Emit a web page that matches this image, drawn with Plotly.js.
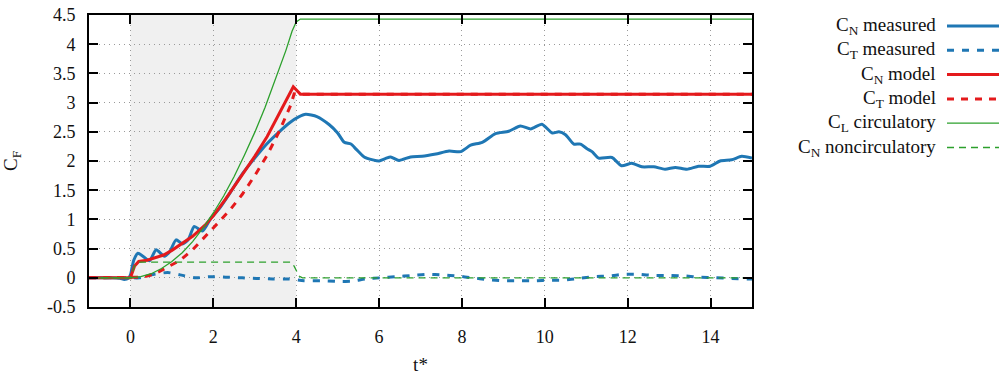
<!DOCTYPE html>
<html>
<head>
<meta charset="utf-8">
<script src="https://cdn.plot.ly/plotly-3.0.1.min.js"></script>
<style>html,body{margin:0;padding:0;background:#fff;}#chart{width:999px;height:375px;}</style>
</head>
<body>
<div id="chart"></div>
<script>
// ---- data ----
const cnMeasuredT = [-1, -0.5, -0.25, -0.15, -0.05, 0, 0.08, 0.18, 0.3, 0.46, 0.62, 0.82, 0.95, 1.1, 1.26, 1.4, 1.54, 1.74, 1.94, 2.14, 2.4, 2.7, 3.0, 3.3, 3.59, 3.85, 4.05, 4.23, 4.5, 4.8, 5.0, 5.16, 5.32, 5.45, 5.64, 5.85, 6.0, 6.15, 6.28, 6.48, 6.76, 7.04, 7.37, 7.69, 7.97, 8.21, 8.49, 8.81, 9.13, 9.41, 9.66, 9.93, 10.18, 10.34, 10.5, 10.7, 10.86, 11.02, 11.14, 11.3, 11.62, 11.85, 12.1, 12.34, 12.63, 12.9, 13.15, 13.43, 13.71, 13.99, 14.23, 14.51, 14.75, 15];
const cnMeasured  = [0, 0, -0.01, -0.03, -0.01, 0.05, 0.3, 0.42, 0.37, 0.29, 0.48, 0.37, 0.45, 0.65, 0.58, 0.66, 0.88, 0.8, 1.02, 1.18, 1.45, 1.78, 2.05, 2.3, 2.5, 2.66, 2.75, 2.8, 2.76, 2.62, 2.48, 2.32, 2.29, 2.2, 2.07, 2.02, 2.0, 2.04, 2.07, 2.01, 2.07, 2.08, 2.12, 2.17, 2.16, 2.27, 2.32, 2.47, 2.51, 2.6, 2.55, 2.63, 2.48, 2.5, 2.45, 2.29, 2.29, 2.21, 2.16, 2.05, 2.06, 1.92, 1.96, 1.9, 1.9, 1.86, 1.89, 1.86, 1.91, 1.91, 2.0, 2.02, 2.08, 2.05];

const ctMeasuredT = [-1, 0, 0.22, 0.5, 0.9, 1.2, 1.58, 1.94, 2.3, 2.7, 3.03, 3.43, 3.83, 4.19, 4.59, 4.96, 5.32, 5.68, 6.04, 6.4, 6.8, 7.16, 7.53, 7.89, 8.25, 8.61, 9.01, 9.37, 9.78, 10.1, 10.45, 10.82, 11.18, 11.54, 11.9, 12.27, 12.63, 13.03, 13.4, 13.75, 14.11, 14.51, 14.88, 15];
const ctMeasured  = [0, 0, 0.0, 0.05, 0.09, 0.05, 0.0, 0.02, 0.01, 0.0, -0.01, -0.02, -0.02, -0.05, -0.05, -0.06, -0.06, -0.02, 0, 0.02, 0.04, 0.06, 0.05, 0.03, 0, -0.03, -0.05, -0.05, -0.05, -0.04, -0.04, -0.01, 0.02, 0.03, 0.06, 0.06, 0.04, 0.04, 0.03, 0.01, 0, -0.01, -0.02, -0.02];

const cnModelT = [-1, 0, 0.1, 0.2, 0.4, 0.6, 0.8, 1.0, 1.2, 1.5, 1.8, 2.0, 2.3, 2.6, 3.0, 3.3, 3.6, 3.8, 3.93, 4.0, 4.1, 15];
const cnModel  = [0, 0, 0.2, 0.28, 0.3, 0.34, 0.39, 0.47, 0.56, 0.71, 0.9, 1.06, 1.35, 1.66, 2.08, 2.42, 2.82, 3.1, 3.27, 3.22, 3.145, 3.145];

const ctModelT = [-1, 0, 0.3, 0.6, 0.9, 1.2, 1.5, 1.8, 2.1, 2.4, 2.7, 3.0, 3.3, 3.6, 3.87, 3.95, 4.05, 15];
const ctModel  = [0, 0, 0.01, 0.07, 0.18, 0.3, 0.48, 0.7, 0.93, 1.16, 1.43, 1.75, 2.1, 2.52, 2.96, 3.15, 3.145, 3.145];

const clCircT = [-1, 0, 0.25, 0.5, 0.75, 1, 1.25, 1.5, 1.75, 2, 2.25, 2.5, 2.75, 3, 3.25, 3.5, 3.75, 3.9, 4.0, 4.1, 15];
const clCirc  = [0, 0, 0.02, 0.07, 0.16, 0.28, 0.43, 0.62, 0.85, 1.11, 1.4, 1.73, 2.1, 2.49, 2.92, 3.39, 3.89, 4.22, 4.38, 4.43, 4.43];

const cnNoncircT = [-1, 0, 0.1, 0.2, 3.87, 3.95, 4.07, 4.15, 15];
const cnNoncirc  = [0, 0, 0.2, 0.27, 0.27, 0.2, 0.03, 0, 0];

const seriesNames = ['C<sub>N</sub> measured', 'C<sub>T</sub> measured', 'C<sub>N</sub> model', 'C<sub>T</sub> model', 'C<sub>L</sub> circulatory', 'C<sub>N</sub> noncirculatory'];
const xTickVals = [0, 2, 4, 6, 8, 10, 12, 14];
const xTickText = ['0', '2', '4', '6', '8', '10', '12', '14'];
const yTickVals = [-0.5, 0, 0.5, 1, 1.5, 2, 2.5, 3, 3.5, 4, 4.5];
const yTickText = ['-0.5', '0', '0.5', '1', '1.5', '2', '2.5', '3', '3.5', '4', '4.5'];
const shadeStart = 0, shadeEnd = 4;

// ---- styles ----
const BLUE = '#1f77b4', RED = '#e41a1c', GREEN = '#2ca02c';
const styles = [
  {color: BLUE, width: 3, dash: 'solid'},
  {color: BLUE, width: 3, dash: '7px,8px'},
  {color: RED, width: 3, dash: 'solid'},
  {color: RED, width: 3, dash: '7px,7px'},
  {color: GREEN, width: 1.3, dash: 'solid'},
  {color: GREEN, width: 1.3, dash: '7px,5px'}
];
const xs = [cnMeasuredT, ctMeasuredT, cnModelT, ctModelT, clCircT, cnNoncircT];
const ys = [cnMeasured, ctMeasured, cnModel, ctModel, clCirc, cnNoncirc];

const traces = xs.map((x, i) => ({
  x: x, y: ys[i], type: 'scatter', mode: 'lines', name: seriesNames[i],
  line: {color: styles[i].color, width: styles[i].width, dash: styles[i].dash,
         shape: i < 2 ? 'spline' : 'linear', smoothing: 0.6},
  showlegend: false, hoverinfo: 'skip'
}));

const FONT = 'Liberation Serif';
const W = 999, H = 375, ML = 89, MR = 247, MT = 15, MB = 68;
const pw = W - ML - MR, ph = H - MT - MB;
const px2x = p => (p - ML) / pw;
const px2y = p => (H - MB - p) / ph;

const shapes = [{
  type: 'rect', xref: 'x', yref: 'paper', x0: shadeStart, x1: shadeEnd, y0: 0, y1: 1,
  fillcolor: '#f0f0f0', line: {width: 0}, layer: 'below'
}];
const annotations = [];
seriesNames.forEach((n, i) => {
  const yy = px2y(26 + i * 24.3);
  annotations.push({xref: 'paper', yref: 'paper', x: px2x(938), y: yy, xanchor: 'right', yanchor: 'middle',
    text: n, showarrow: false, font: {family: FONT, size: 19, color: '#111'}});
  shapes.push({type: 'line', xref: 'paper', yref: 'paper', x0: px2x(947), x1: px2x(1002), y0: yy, y1: yy,
    line: {color: styles[i].color, width: styles[i].width, dash: styles[i].dash}});
});

const axisCommon = {
  showline: true, linecolor: '#000', linewidth: 2, mirror: 'ticks',
  ticks: 'inside', ticklen: 9, tickwidth: 2, tickcolor: '#000',
  showgrid: true, gridcolor: '#9a9a9a', griddash: '1px,4px', gridwidth: 1,
  zeroline: false, tickfont: {family: FONT, size: 18, color: '#111'}, tickmode: 'array'
};

const layout = {
  width: W, height: H,
  margin: {l: ML, r: MR, t: MT, b: MB, pad: 0},
  paper_bgcolor: '#fff', plot_bgcolor: '#fff',
  showlegend: false,
  font: {family: FONT, size: 18, color: '#111'},
  xaxis: Object.assign({}, axisCommon, {
    range: [-1, 15], tickvals: xTickVals, ticktext: xTickText, ticklabelstandoff: 12,
    title: {text: 't*', font: {family: FONT, size: 19, color: '#111'}, standoff: 20}
  }),
  yaxis: Object.assign({}, axisCommon, {
    range: [-0.5, 4.5], tickvals: yTickVals, ticktext: yTickText, ticklabelstandoff: 8,
    title: {text: 'C<sub>F</sub>', font: {family: FONT, size: 19, color: '#111'}, standoff: 26}
  }),
  shapes: shapes,
  annotations: annotations
};

Plotly.newPlot('chart', traces, layout, {displayModeBar: false, staticPlot: true});
</script>
</body>
</html>
